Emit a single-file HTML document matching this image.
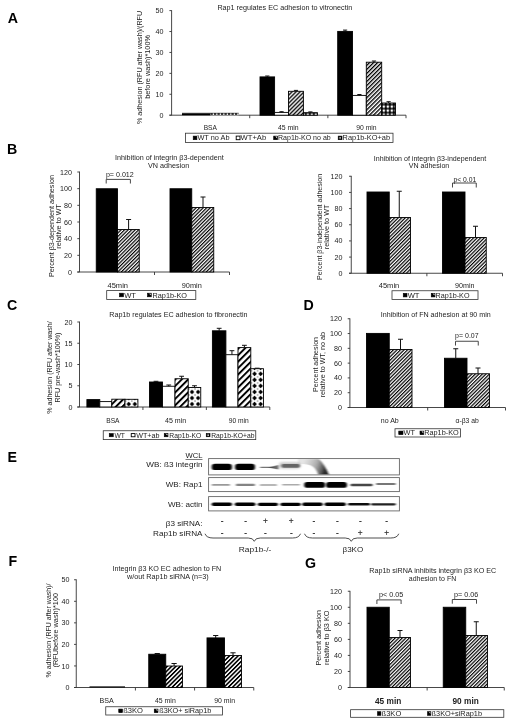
<!DOCTYPE html>
<html><head><meta charset="utf-8"><title>Figure</title>
<style>
html,body{margin:0;padding:0;background:#fff;}
svg{display:block;font-family:"Liberation Sans", Arial, sans-serif;}
.soft{filter:blur(0.45px);}
</style></head><body>
<svg width="520" height="724" viewBox="0 0 520 724">
<rect width="520" height="724" fill="#fff"/>
<defs>
<pattern id="ha" width="2.85" height="2.85" patternUnits="userSpaceOnUse" patternTransform="rotate(-45)"><rect width="2.85" height="2.85" fill="#fff"/><rect width="2.85" height="1.35" fill="#000"/></pattern>
<pattern id="hb" width="2.5" height="2.5" patternUnits="userSpaceOnUse" patternTransform="rotate(-45)"><rect width="2.5" height="2.5" fill="#fff"/><rect width="2.5" height="1.2" fill="#000"/></pattern>
<pattern id="hc" width="4.55" height="4.55" patternUnits="userSpaceOnUse" patternTransform="rotate(-45)"><rect width="4.55" height="4.55" fill="#fff"/><rect width="4.55" height="1.95" fill="#000"/></pattern>
<pattern id="hf" width="3.05" height="3.05" patternUnits="userSpaceOnUse" patternTransform="rotate(-45)"><rect width="3.05" height="3.05" fill="#fff"/><rect width="3.05" height="1.6" fill="#000"/></pattern>
<pattern id="lh" width="1.6" height="1.6" patternUnits="userSpaceOnUse" patternTransform="rotate(-45)"><rect width="1.6" height="1.6" fill="#fff"/><rect width="1.6" height="0.8" fill="#000"/></pattern>
<pattern id="dot" width="4" height="4" patternUnits="userSpaceOnUse" x="381.8" y="104.6"><rect width="4" height="4" fill="#000"/><rect x="0.85" y="0.85" width="2.3" height="2.3" rx="0.5" fill="#fff"/></pattern>
<pattern id="ld" width="2" height="2" patternUnits="userSpaceOnUse"><rect width="2" height="2" fill="#000"/><rect x="0.6" y="0.6" width="1" height="1" fill="#fff"/></pattern>
<pattern id="dia0" width="6.1" height="6.05" patternUnits="userSpaceOnUse" x="125.7" y="370.8"><rect width="6.1" height="6.05" fill="#fff"/><path d="M3.05 0.7 L5.4 3.02 L3.05 5.35 L0.7 3.02 Z" fill="#000"/><path d="M0 -0.7 L0.7 0 L0 0.7 L-0.7 0 Z M6.1 -0.7 L6.8 0 L6.1 0.7 L5.4 0 Z M0 5.35 L0.7 6.05 L0 6.75 L-0.7 6.05 Z M6.1 5.35 L6.8 6.05 L6.1 6.75 L5.4 6.05 Z" fill="#222"/></pattern>
<pattern id="dia1" width="6.1" height="6.05" patternUnits="userSpaceOnUse" x="188.95" y="370.8"><rect width="6.1" height="6.05" fill="#fff"/><path d="M3.05 0.7 L5.4 3.02 L3.05 5.35 L0.7 3.02 Z" fill="#000"/><path d="M0 -0.7 L0.7 0 L0 0.7 L-0.7 0 Z M6.1 -0.7 L6.8 0 L6.1 0.7 L5.4 0 Z M0 5.35 L0.7 6.05 L0 6.75 L-0.7 6.05 Z M6.1 5.35 L6.8 6.05 L6.1 6.75 L5.4 6.05 Z" fill="#222"/></pattern>
<pattern id="dia2" width="6.1" height="6.05" patternUnits="userSpaceOnUse" x="251.5" y="370.8"><rect width="6.1" height="6.05" fill="#fff"/><path d="M3.05 0.7 L5.4 3.02 L3.05 5.35 L0.7 3.02 Z" fill="#000"/><path d="M0 -0.7 L0.7 0 L0 0.7 L-0.7 0 Z M6.1 -0.7 L6.8 0 L6.1 0.7 L5.4 0 Z M0 5.35 L0.7 6.05 L0 6.75 L-0.7 6.05 Z M6.1 5.35 L6.8 6.05 L6.1 6.75 L5.4 6.05 Z" fill="#222"/></pattern>
<pattern id="ldi" width="2.2" height="2.2" patternUnits="userSpaceOnUse"><rect width="2.2" height="2.2" fill="#fff"/><path d="M1.1 0 L2.2 1.1 L1.1 2.2 L0 1.1 Z" fill="#000"/></pattern>
<filter id="bl" x="-20%" y="-50%" width="140%" height="200%"><feGaussianBlur stdDeviation="0.9 0.7"/></filter>
<filter id="bl2" x="-20%" y="-50%" width="140%" height="200%"><feGaussianBlur stdDeviation="1.6 1.2"/></filter>
<linearGradient id="bg" gradientUnits="userSpaceOnUse" x1="303" y1="462" x2="325.5" y2="470.5"><stop offset="0" stop-color="#999" stop-opacity="0.25"/><stop offset="0.55" stop-color="#777" stop-opacity="0.6"/><stop offset="1" stop-color="#1a1a1a" stop-opacity="0.95"/></linearGradient>
</defs>
<g class="soft">
<text x="7.8" y="23.0" font-size="14.2" text-anchor="start" font-weight="bold" fill="#000">A</text>
<text x="7.1" y="154.2" font-size="14.2" text-anchor="start" font-weight="bold" fill="#000">B</text>
<text x="6.9" y="309.9" font-size="14.2" text-anchor="start" font-weight="bold" fill="#000">C</text>
<text x="303.5" y="310" font-size="14.2" text-anchor="start" font-weight="bold" fill="#000">D</text>
<text x="7.4" y="462.0" font-size="14.2" text-anchor="start" font-weight="bold" fill="#000">E</text>
<text x="8.6" y="566.1" font-size="14.2" text-anchor="start" font-weight="bold" fill="#000">F</text>
<text x="304.9" y="567.9" font-size="14.2" text-anchor="start" font-weight="bold" fill="#000">G</text>
<text x="217.4" y="9.5" font-size="7.15" text-anchor="start" font-weight="normal" fill="#1c1c1c" textLength="134.9" lengthAdjust="spacingAndGlyphs">Rap1 regulates EC adhesion to vitronectin</text>
<line x1="171.6" y1="10.2" x2="171.6" y2="115.2" stroke="#333" stroke-width="0.9"/>
<line x1="169.4" y1="115.2" x2="171.6" y2="115.2" stroke="#333" stroke-width="0.9"/>
<text x="163.4" y="117.774" font-size="7.15" text-anchor="end" font-weight="normal" fill="#1c1c1c">0</text>
<line x1="169.4" y1="94.28" x2="171.6" y2="94.28" stroke="#333" stroke-width="0.9"/>
<text x="163.4" y="96.854" font-size="7.15" text-anchor="end" font-weight="normal" fill="#1c1c1c">10</text>
<line x1="169.4" y1="73.36" x2="171.6" y2="73.36" stroke="#333" stroke-width="0.9"/>
<text x="163.4" y="75.934" font-size="7.15" text-anchor="end" font-weight="normal" fill="#1c1c1c">20</text>
<line x1="169.4" y1="52.44" x2="171.6" y2="52.44" stroke="#333" stroke-width="0.9"/>
<text x="163.4" y="55.013999999999996" font-size="7.15" text-anchor="end" font-weight="normal" fill="#1c1c1c">30</text>
<line x1="169.4" y1="31.519999999999996" x2="171.6" y2="31.519999999999996" stroke="#333" stroke-width="0.9"/>
<text x="163.4" y="34.093999999999994" font-size="7.15" text-anchor="end" font-weight="normal" fill="#1c1c1c">40</text>
<line x1="169.4" y1="10.600000000000009" x2="171.6" y2="10.600000000000009" stroke="#333" stroke-width="0.9"/>
<text x="163.4" y="13.174000000000008" font-size="7.15" text-anchor="end" font-weight="normal" fill="#1c1c1c">50</text>
<line x1="169.4" y1="115.2" x2="406" y2="115.2" stroke="#333" stroke-width="0.9"/>
<line x1="249.73333333333335" y1="115.2" x2="249.73333333333335" y2="118.2" stroke="#333" stroke-width="0.9"/>
<line x1="327.8666666666667" y1="115.2" x2="327.8666666666667" y2="118.2" stroke="#333" stroke-width="0.9"/>
<line x1="406.0" y1="115.2" x2="406.0" y2="118.2" stroke="#333" stroke-width="0.9"/>
<rect x="182" y="113.3" width="28.4" height="1.9" fill="#000" stroke="none" stroke-width="0"/>
<rect x="210.4" y="113.3" width="28.3" height="1.9" fill="#fff" stroke="none" stroke-width="0"/>
<line x1="210.4" y1="114" x2="238.7" y2="114" stroke="#000" stroke-width="1.4" stroke-dasharray="2.4 1.1"/>
<line x1="182" y1="113.2" x2="238.7" y2="113.2" stroke="#000" stroke-width="0.5"/>
<text x="203.7" y="130" font-size="7.15" text-anchor="start" font-weight="normal" fill="#1c1c1c" textLength="13.2" lengthAdjust="spacingAndGlyphs">BSA</text>
<text x="278" y="130" font-size="7.15" text-anchor="start" font-weight="normal" fill="#1c1c1c" textLength="20.7" lengthAdjust="spacingAndGlyphs">45 min</text>
<text x="356.2" y="130" font-size="7.15" text-anchor="start" font-weight="normal" fill="#1c1c1c" textLength="20.4" lengthAdjust="spacingAndGlyphs">90 min</text>
<rect x="185.5" y="133.2" width="207.5" height="9.4" fill="#fff" stroke="#333" stroke-width="0.8"/>
<rect x="193.2" y="136.1" width="3.7" height="3.6" fill="#000" stroke="#000" stroke-width="0.6"/>
<text x="197.4" y="140.474" font-size="7.15" text-anchor="start" font-weight="normal" fill="#1c1c1c" textLength="32.1" lengthAdjust="spacingAndGlyphs">WT no Ab</text>
<rect x="236.2" y="136.1" width="3.8" height="3.6" fill="#fff" stroke="#000" stroke-width="0.9"/>
<text x="240.6" y="140.474" font-size="7.15" text-anchor="start" font-weight="normal" fill="#1c1c1c" textLength="25.6" lengthAdjust="spacingAndGlyphs">WT+Ab</text>
<rect x="273.7" y="136.1" width="3.8" height="3.6" fill="#000" stroke="#000" stroke-width="0.6"/>
<path d="M275.296 136.59999999999997 L277.0 136.59999999999997 L277.0 138.188 Z" fill="#fff"/>
<text x="278" y="140.474" font-size="7.15" text-anchor="start" font-weight="normal" fill="#1c1c1c" textLength="52.7" lengthAdjust="spacingAndGlyphs">Rap1b-KO no ab</text>
<rect x="338.2" y="136.1" width="3.8" height="3.6" fill="#000" stroke="#000" stroke-width="0.6"/>
<rect x="339.4" y="137.2" width="1.4" height="1.4" fill="#fff"/>
<text x="342.6" y="140.474" font-size="7.15" text-anchor="start" font-weight="normal" fill="#1c1c1c" textLength="47.4" lengthAdjust="spacingAndGlyphs">Rap1b-KO+ab</text>
<text x="142.23100000000002" y="124" font-size="7.15" text-anchor="start" fill="#1c1c1c" transform="rotate(-90 142.23100000000002 124)" textLength="113.2" lengthAdjust="spacingAndGlyphs">% adhesion (RFU after wash)/(RFU</text>
<text x="150.031" y="98.8" font-size="7.15" text-anchor="start" fill="#1c1c1c" transform="rotate(-90 150.031 98.8)" textLength="63.8" lengthAdjust="spacingAndGlyphs">before wash)*100%</text>
<text x="115" y="160" font-size="7.15" text-anchor="start" font-weight="normal" fill="#1c1c1c" textLength="108.75" lengthAdjust="spacingAndGlyphs">Inhibition of integrin β3-dependent</text>
<text x="148" y="168.1" font-size="7.15" text-anchor="start" font-weight="normal" fill="#1c1c1c" textLength="41.25" lengthAdjust="spacingAndGlyphs">VN adhesion</text>
<line x1="79.5" y1="171.6" x2="79.5" y2="272" stroke="#333" stroke-width="0.9"/>
<line x1="77.3" y1="272.0" x2="79.5" y2="272.0" stroke="#333" stroke-width="0.9"/>
<text x="72" y="274.574" font-size="7.15" text-anchor="end" font-weight="normal" fill="#1c1c1c">0</text>
<line x1="77.3" y1="255.33333333333334" x2="79.5" y2="255.33333333333334" stroke="#333" stroke-width="0.9"/>
<text x="72" y="257.9073333333333" font-size="7.15" text-anchor="end" font-weight="normal" fill="#1c1c1c">20</text>
<line x1="77.3" y1="238.66666666666666" x2="79.5" y2="238.66666666666666" stroke="#333" stroke-width="0.9"/>
<text x="72" y="241.24066666666667" font-size="7.15" text-anchor="end" font-weight="normal" fill="#1c1c1c">40</text>
<line x1="77.3" y1="222.0" x2="79.5" y2="222.0" stroke="#333" stroke-width="0.9"/>
<text x="72" y="224.574" font-size="7.15" text-anchor="end" font-weight="normal" fill="#1c1c1c">60</text>
<line x1="77.3" y1="205.33333333333331" x2="79.5" y2="205.33333333333331" stroke="#333" stroke-width="0.9"/>
<text x="72" y="207.90733333333333" font-size="7.15" text-anchor="end" font-weight="normal" fill="#1c1c1c">80</text>
<line x1="77.3" y1="188.66666666666669" x2="79.5" y2="188.66666666666669" stroke="#333" stroke-width="0.9"/>
<text x="72" y="191.2406666666667" font-size="7.15" text-anchor="end" font-weight="normal" fill="#1c1c1c">100</text>
<line x1="77.3" y1="172.0" x2="79.5" y2="172.0" stroke="#333" stroke-width="0.9"/>
<text x="72" y="174.574" font-size="7.15" text-anchor="end" font-weight="normal" fill="#1c1c1c">120</text>
<line x1="77.3" y1="272" x2="229.5" y2="272" stroke="#333" stroke-width="0.9"/>
<line x1="154.5" y1="272" x2="154.5" y2="275.0" stroke="#333" stroke-width="0.9"/>
<line x1="229.5" y1="272" x2="229.5" y2="275.0" stroke="#333" stroke-width="0.9"/>
<polyline points="106.2,183.5 106.2,179.4 130.4,179.4 130.4,183.5" fill="none" stroke="#333" stroke-width="0.9"/>
<text x="105.9" y="176.5" font-size="7.15" text-anchor="start" font-weight="normal" fill="#1c1c1c" textLength="27.9" lengthAdjust="spacingAndGlyphs">p= 0.012</text>
<text x="107.5" y="287.5" font-size="7.15" text-anchor="start" font-weight="normal" fill="#1c1c1c" textLength="20.5" lengthAdjust="spacingAndGlyphs">45min</text>
<text x="181.75" y="287.5" font-size="7.15" text-anchor="start" font-weight="normal" fill="#1c1c1c" textLength="20.0" lengthAdjust="spacingAndGlyphs">90min</text>
<rect x="106.7" y="290.6" width="89.1" height="8.8" fill="#fff" stroke="#333" stroke-width="0.8"/>
<rect x="119.5" y="293.2" width="4.0" height="3.6" fill="#000" stroke="#000" stroke-width="0.6"/>
<text x="124.2" y="297.574" font-size="7.15" text-anchor="start" font-weight="normal" fill="#1c1c1c" textLength="11.8" lengthAdjust="spacingAndGlyphs">WT</text>
<rect x="147.5" y="293.2" width="3.75" height="3.6" fill="#000" stroke="#000" stroke-width="0.6"/>
<path d="M149.075 293.7 L150.75 293.7 L150.75 295.288 Z" fill="#fff"/>
<text x="152.5" y="297.574" font-size="7.15" text-anchor="start" font-weight="normal" fill="#1c1c1c" textLength="34.5" lengthAdjust="spacingAndGlyphs">Rap1b-KO</text>
<text x="53.681" y="277" font-size="7.15" text-anchor="start" fill="#1c1c1c" transform="rotate(-90 53.681 277)" textLength="102" lengthAdjust="spacingAndGlyphs">Percent β3-dependent adhesion</text>
<text x="61.431" y="248.7" font-size="7.15" text-anchor="start" fill="#1c1c1c" transform="rotate(-90 61.431 248.7)" textLength="44.7" lengthAdjust="spacingAndGlyphs">relative to WT</text>
<text x="373.75" y="160.75" font-size="7.15" text-anchor="start" font-weight="normal" fill="#1c1c1c" textLength="112.5" lengthAdjust="spacingAndGlyphs">Inhibition of integrin β3-independent</text>
<text x="408.75" y="168.25" font-size="7.15" text-anchor="start" font-weight="normal" fill="#1c1c1c" textLength="40.5" lengthAdjust="spacingAndGlyphs">VN adhesion</text>
<line x1="351.25" y1="175.85" x2="351.25" y2="273.25" stroke="#333" stroke-width="0.9"/>
<line x1="349.05" y1="273.25" x2="351.25" y2="273.25" stroke="#333" stroke-width="0.9"/>
<text x="342.5" y="275.824" font-size="7.15" text-anchor="end" font-weight="normal" fill="#1c1c1c">0</text>
<line x1="349.05" y1="257.0833333333333" x2="351.25" y2="257.0833333333333" stroke="#333" stroke-width="0.9"/>
<text x="342.5" y="259.6573333333333" font-size="7.15" text-anchor="end" font-weight="normal" fill="#1c1c1c">20</text>
<line x1="349.05" y1="240.91666666666666" x2="351.25" y2="240.91666666666666" stroke="#333" stroke-width="0.9"/>
<text x="342.5" y="243.49066666666667" font-size="7.15" text-anchor="end" font-weight="normal" fill="#1c1c1c">40</text>
<line x1="349.05" y1="224.75" x2="351.25" y2="224.75" stroke="#333" stroke-width="0.9"/>
<text x="342.5" y="227.324" font-size="7.15" text-anchor="end" font-weight="normal" fill="#1c1c1c">60</text>
<line x1="349.05" y1="208.58333333333331" x2="351.25" y2="208.58333333333331" stroke="#333" stroke-width="0.9"/>
<text x="342.5" y="211.15733333333333" font-size="7.15" text-anchor="end" font-weight="normal" fill="#1c1c1c">80</text>
<line x1="349.05" y1="192.41666666666669" x2="351.25" y2="192.41666666666669" stroke="#333" stroke-width="0.9"/>
<text x="342.5" y="194.9906666666667" font-size="7.15" text-anchor="end" font-weight="normal" fill="#1c1c1c">100</text>
<line x1="349.05" y1="176.25" x2="351.25" y2="176.25" stroke="#333" stroke-width="0.9"/>
<text x="342.5" y="178.824" font-size="7.15" text-anchor="end" font-weight="normal" fill="#1c1c1c">120</text>
<line x1="349.05" y1="273.25" x2="502.5" y2="273.25" stroke="#333" stroke-width="0.9"/>
<line x1="426.875" y1="273.25" x2="426.875" y2="276.25" stroke="#333" stroke-width="0.9"/>
<line x1="502.5" y1="273.25" x2="502.5" y2="276.25" stroke="#333" stroke-width="0.9"/>
<polyline points="452.5,187.5 452.5,183 476.25,183 476.25,187.5" fill="none" stroke="#333" stroke-width="0.9"/>
<text x="453.5" y="181.7" font-size="7.15" text-anchor="start" font-weight="normal" fill="#1c1c1c" textLength="22.8" lengthAdjust="spacingAndGlyphs">p&lt; 0.01</text>
<text x="378.75" y="287.5" font-size="7.15" text-anchor="start" font-weight="normal" fill="#1c1c1c" textLength="20.5" lengthAdjust="spacingAndGlyphs">45min</text>
<text x="455" y="287.5" font-size="7.15" text-anchor="start" font-weight="normal" fill="#1c1c1c" textLength="19.5" lengthAdjust="spacingAndGlyphs">90min</text>
<rect x="392" y="290.75" width="86" height="8.75" fill="#fff" stroke="#333" stroke-width="0.8"/>
<rect x="403.25" y="293.32" width="3.75" height="3.6" fill="#000" stroke="#000" stroke-width="0.6"/>
<text x="407.7" y="297.699" font-size="7.15" text-anchor="start" font-weight="normal" fill="#1c1c1c" textLength="11.8" lengthAdjust="spacingAndGlyphs">WT</text>
<rect x="431.25" y="293.32" width="3.75" height="3.6" fill="#000" stroke="#000" stroke-width="0.6"/>
<path d="M432.825 293.825 L434.5 293.825 L434.5 295.413 Z" fill="#fff"/>
<text x="435.6" y="297.699" font-size="7.15" text-anchor="start" font-weight="normal" fill="#1c1c1c" textLength="33.9" lengthAdjust="spacingAndGlyphs">Rap1b-KO</text>
<text x="321.681" y="280" font-size="7.15" text-anchor="start" fill="#1c1c1c" transform="rotate(-90 321.681 280)" textLength="106.25" lengthAdjust="spacingAndGlyphs">Percent β3-independent adhesion</text>
<text x="329.431" y="249.2" font-size="7.15" text-anchor="start" fill="#1c1c1c" transform="rotate(-90 329.431 249.2)" textLength="44.6" lengthAdjust="spacingAndGlyphs">relative to WT</text>
<text x="109.25" y="317" font-size="6.9" text-anchor="start" font-weight="normal" fill="#1c1c1c" textLength="138.25" lengthAdjust="spacingAndGlyphs">Rap1b regulates EC adhesion to fibronectin</text>
<line x1="79.5" y1="321.6" x2="79.5" y2="407" stroke="#333" stroke-width="0.9"/>
<line x1="77.3" y1="407.0" x2="79.5" y2="407.0" stroke="#333" stroke-width="0.9"/>
<text x="72.5" y="409.574" font-size="7.15" text-anchor="end" font-weight="normal" fill="#1c1c1c">0</text>
<line x1="77.3" y1="385.75" x2="79.5" y2="385.75" stroke="#333" stroke-width="0.9"/>
<text x="72.5" y="388.324" font-size="7.15" text-anchor="end" font-weight="normal" fill="#1c1c1c">5</text>
<line x1="77.3" y1="364.5" x2="79.5" y2="364.5" stroke="#333" stroke-width="0.9"/>
<text x="72.5" y="367.074" font-size="7.15" text-anchor="end" font-weight="normal" fill="#1c1c1c">10</text>
<line x1="77.3" y1="343.25" x2="79.5" y2="343.25" stroke="#333" stroke-width="0.9"/>
<text x="72.5" y="345.824" font-size="7.15" text-anchor="end" font-weight="normal" fill="#1c1c1c">15</text>
<line x1="77.3" y1="322.0" x2="79.5" y2="322.0" stroke="#333" stroke-width="0.9"/>
<text x="72.5" y="324.574" font-size="7.15" text-anchor="end" font-weight="normal" fill="#1c1c1c">20</text>
<line x1="77.3" y1="407" x2="269.8" y2="407" stroke="#333" stroke-width="0.9"/>
<line x1="142.93333333333334" y1="407" x2="142.93333333333334" y2="410.0" stroke="#333" stroke-width="0.9"/>
<line x1="206.36666666666667" y1="407" x2="206.36666666666667" y2="410.0" stroke="#333" stroke-width="0.9"/>
<line x1="269.80000000000007" y1="407" x2="269.80000000000007" y2="410.0" stroke="#333" stroke-width="0.9"/>
<text x="106.25" y="422.5" font-size="6.9" text-anchor="start" font-weight="normal" fill="#1c1c1c" textLength="13.25" lengthAdjust="spacingAndGlyphs">BSA</text>
<text x="165" y="422.5" font-size="6.9" text-anchor="start" font-weight="normal" fill="#1c1c1c" textLength="21.25" lengthAdjust="spacingAndGlyphs">45 min</text>
<text x="228.75" y="422.5" font-size="6.9" text-anchor="start" font-weight="normal" fill="#1c1c1c" textLength="20.0" lengthAdjust="spacingAndGlyphs">90 min</text>
<rect x="103.25" y="430.75" width="152.5" height="8.85" fill="#fff" stroke="#333" stroke-width="0.8"/>
<rect x="109.25" y="433.57" width="4.0" height="3.2" fill="#000" stroke="#000" stroke-width="0.6"/>
<text x="114.5" y="437.659" font-size="6.9" text-anchor="start" font-weight="normal" fill="#1c1c1c" textLength="10.5" lengthAdjust="spacingAndGlyphs">WT</text>
<rect x="131.25" y="433.57" width="3.75" height="3.2" fill="#fff" stroke="#000" stroke-width="0.9"/>
<text x="136.25" y="437.659" font-size="6.9" text-anchor="start" font-weight="normal" fill="#1c1c1c" textLength="23.25" lengthAdjust="spacingAndGlyphs">WT+ab</text>
<rect x="164.25" y="433.57" width="3.75" height="3.2" fill="#000" stroke="#000" stroke-width="0.6"/>
<path d="M165.825 434.075 L167.5 434.075 L167.5 435.431 Z" fill="#fff"/>
<text x="169.25" y="437.659" font-size="6.9" text-anchor="start" font-weight="normal" fill="#1c1c1c" textLength="32.0" lengthAdjust="spacingAndGlyphs">Rap1b-KO</text>
<rect x="206.25" y="433.57" width="3.75" height="3.2" fill="#000" stroke="#000" stroke-width="0.6"/>
<rect x="207.43" y="434.48" width="1.4" height="1.4" fill="#fff"/>
<text x="211.25" y="437.659" font-size="6.9" text-anchor="start" font-weight="normal" fill="#1c1c1c" textLength="43.25" lengthAdjust="spacingAndGlyphs">Rap1b-KO+ab</text>
<text x="52.346000000000004" y="413.75" font-size="6.9" text-anchor="start" fill="#1c1c1c" transform="rotate(-90 52.346000000000004 413.75)" textLength="92.5" lengthAdjust="spacingAndGlyphs">% adhesion (RFU after wash/</text>
<text x="59.846000000000004" y="402.5" font-size="6.9" text-anchor="start" fill="#1c1c1c" transform="rotate(-90 59.846000000000004 402.5)" textLength="70.0" lengthAdjust="spacingAndGlyphs">RFU pre-wash*100%)</text>
<text x="380.75" y="316.5" font-size="7.15" text-anchor="start" font-weight="normal" fill="#1c1c1c" textLength="110.0" lengthAdjust="spacingAndGlyphs">Inhibition of FN adhesion at 90 min</text>
<line x1="349.9" y1="318.35" x2="349.9" y2="407.5" stroke="#333" stroke-width="0.9"/>
<line x1="347.7" y1="407.5" x2="349.9" y2="407.5" stroke="#333" stroke-width="0.9"/>
<text x="342" y="410.074" font-size="7.15" text-anchor="end" font-weight="normal" fill="#1c1c1c">0</text>
<line x1="347.7" y1="392.7083333333333" x2="349.9" y2="392.7083333333333" stroke="#333" stroke-width="0.9"/>
<text x="342" y="395.2823333333333" font-size="7.15" text-anchor="end" font-weight="normal" fill="#1c1c1c">20</text>
<line x1="347.7" y1="377.9166666666667" x2="349.9" y2="377.9166666666667" stroke="#333" stroke-width="0.9"/>
<text x="342" y="380.4906666666667" font-size="7.15" text-anchor="end" font-weight="normal" fill="#1c1c1c">40</text>
<line x1="347.7" y1="363.125" x2="349.9" y2="363.125" stroke="#333" stroke-width="0.9"/>
<text x="342" y="365.699" font-size="7.15" text-anchor="end" font-weight="normal" fill="#1c1c1c">60</text>
<line x1="347.7" y1="348.3333333333333" x2="349.9" y2="348.3333333333333" stroke="#333" stroke-width="0.9"/>
<text x="342" y="350.9073333333333" font-size="7.15" text-anchor="end" font-weight="normal" fill="#1c1c1c">80</text>
<line x1="347.7" y1="333.5416666666667" x2="349.9" y2="333.5416666666667" stroke="#333" stroke-width="0.9"/>
<text x="342" y="336.1156666666667" font-size="7.15" text-anchor="end" font-weight="normal" fill="#1c1c1c">100</text>
<line x1="347.7" y1="318.75" x2="349.9" y2="318.75" stroke="#333" stroke-width="0.9"/>
<text x="342" y="321.324" font-size="7.15" text-anchor="end" font-weight="normal" fill="#1c1c1c">120</text>
<line x1="347.7" y1="407.5" x2="505.5" y2="407.5" stroke="#333" stroke-width="0.9"/>
<line x1="427.7" y1="407.5" x2="427.7" y2="410.5" stroke="#333" stroke-width="0.9"/>
<line x1="505.5" y1="407.5" x2="505.5" y2="410.5" stroke="#333" stroke-width="0.9"/>
<polyline points="455.5,345.55 455.5,341.25 478.25,341.25 478.25,345.55" fill="none" stroke="#333" stroke-width="0.9"/>
<text x="455.1" y="337.8" font-size="7.15" text-anchor="start" font-weight="normal" fill="#1c1c1c" textLength="23.5" lengthAdjust="spacingAndGlyphs">p= 0.07</text>
<text x="380.75" y="423" font-size="7.15" text-anchor="start" font-weight="normal" fill="#1c1c1c" textLength="18.0" lengthAdjust="spacingAndGlyphs">no Ab</text>
<text x="455.5" y="423" font-size="7.15" text-anchor="start" font-weight="normal" fill="#1c1c1c" textLength="23.25" lengthAdjust="spacingAndGlyphs">α-β3 ab</text>
<rect x="395" y="428.75" width="65.5" height="8.25" fill="#fff" stroke="#333" stroke-width="0.8"/>
<rect x="398.75" y="431.07" width="4.25" height="3.6" fill="#000" stroke="#000" stroke-width="0.6"/>
<text x="403.6" y="435.449" font-size="7.15" text-anchor="start" font-weight="normal" fill="#1c1c1c" textLength="11.4" lengthAdjust="spacingAndGlyphs">WT</text>
<rect x="420" y="431.07" width="3.75" height="3.6" fill="#000" stroke="#000" stroke-width="0.6"/>
<path d="M421.575 431.575 L423.25 431.575 L423.25 433.163 Z" fill="#fff"/>
<text x="424.2" y="435.449" font-size="7.15" text-anchor="start" font-weight="normal" fill="#1c1c1c" textLength="34.55" lengthAdjust="spacingAndGlyphs">Rap1b-KO</text>
<text x="317.931" y="392" font-size="7.15" text-anchor="start" fill="#1c1c1c" transform="rotate(-90 317.931 392)" textLength="55" lengthAdjust="spacingAndGlyphs">Percent adhesion</text>
<text x="325.431" y="397.5" font-size="7.15" text-anchor="start" fill="#1c1c1c" transform="rotate(-90 325.431 397.5)" textLength="65.5" lengthAdjust="spacingAndGlyphs">relative to WT, no ab</text>
<text x="185.5" y="458" font-size="7.65" text-anchor="start" font-weight="normal" fill="#1c1c1c" textLength="17.0" lengthAdjust="spacingAndGlyphs">WCL</text>
<line x1="185.5" y1="459.5" x2="202.5" y2="459.5" stroke="#222" stroke-width="0.6"/>
<text x="146.25" y="467" font-size="8.1" text-anchor="start" font-weight="normal" fill="#1c1c1c" textLength="56.25" lengthAdjust="spacingAndGlyphs">WB: ß3 integrin</text>
<text x="165.75" y="487" font-size="8.1" text-anchor="start" font-weight="normal" fill="#1c1c1c" textLength="36.75" lengthAdjust="spacingAndGlyphs">WB: Rap1</text>
<text x="168" y="506.6" font-size="8.1" text-anchor="start" font-weight="normal" fill="#1c1c1c" textLength="34.5" lengthAdjust="spacingAndGlyphs">WB: actin</text>
<rect x="208.6" y="458.6" width="190.8" height="16.3" fill="#fff" stroke="none" stroke-width="0"/>
<rect x="208.6" y="477.6" width="190.8" height="14.0" fill="#fff" stroke="none" stroke-width="0"/>
<rect x="208.6" y="496.6" width="190.8" height="14.3" fill="#fff" stroke="none" stroke-width="0"/>
<g>
<rect x="211.7" y="463.7" width="20.3" height="6.4" rx="3.2" fill="#000" opacity="1.0" filter="url(#bl)"/>
<rect x="235" y="463.7" width="20" height="6.4" rx="3.2" fill="#000" opacity="1.0" filter="url(#bl)"/>
<rect x="260" y="466.75" width="14" height="1.3" rx="0.65" fill="#555" opacity="0.8" filter="url(#bl)"/>
<path d="M268 467.4 L278.5 464.9 L278.5 469.6 Z" fill="#444" opacity="0.8" filter="url(#bl)"/>
<rect x="279" y="462.2" width="21.5" height="6.2" rx="3.1" fill="#999" opacity="0.55" filter="url(#bl2)"/>
<rect x="281.5" y="463.9" width="18.5" height="3.8" rx="1.9" fill="#444" opacity="0.75" filter="url(#bl)"/>
<clipPath id="c1"><rect x="209.2" y="459.2" width="189.9" height="15.4"/></clipPath>
<g clip-path="url(#c1)"><path d="M298 458.5 L318.5 458.5 Q324.5 464 329.3 475.6 L318.5 475.6 Q317 468.5 310.5 465.3 Q305 463.6 298 464 Z" fill="url(#bg)" filter="url(#bl)"/></g>
<rect x="211.7" y="484.05" width="18.3" height="1.7" rx="0.85" fill="#777" opacity="0.75" filter="url(#bl)"/>
<rect x="235.8" y="483.8" width="19.2" height="2.2" rx="1.1" fill="#666" opacity="0.8" filter="url(#bl)"/>
<rect x="259.8" y="484.15" width="17.2" height="1.7" rx="0.85" fill="#777" opacity="0.7" filter="url(#bl)"/>
<rect x="282" y="484.0" width="18" height="1.6" rx="0.8" fill="#888" opacity="0.7" filter="url(#bl)"/>
<rect x="304.2" y="482.1" width="21.0" height="5.6" rx="2.8" fill="#000" opacity="1.0" filter="url(#bl)"/>
<rect x="326" y="481.95" width="21" height="5.9" rx="2.95" fill="#000" opacity="1.0" filter="url(#bl)"/>
<rect x="350.4" y="483.8" width="22.3" height="2.4" rx="1.2" fill="#333" opacity="0.9" filter="url(#bl)"/>
<rect x="376" y="483.1" width="19.8" height="2.0" rx="1.0" fill="#555" opacity="0.8" filter="url(#bl)"/>
<rect x="211.7" y="502.6" width="20.3" height="3.4" rx="1.7" fill="#000" opacity="1.0" filter="url(#bl)"/>
<rect x="234.8" y="502.6" width="20.6" height="3.4" rx="1.7" fill="#000" opacity="1.0" filter="url(#bl)"/>
<rect x="257.9" y="502.7" width="20.1" height="3.2" rx="1.6" fill="#000" opacity="1.0" filter="url(#bl)"/>
<rect x="280.4" y="502.7" width="20.4" height="3.2" rx="1.6" fill="#000" opacity="1.0" filter="url(#bl)"/>
<rect x="302.3" y="502.6" width="20.4" height="3.4" rx="1.7" fill="#000" opacity="1.0" filter="url(#bl)"/>
<rect x="324.6" y="502.6" width="21.2" height="3.4" rx="1.7" fill="#000" opacity="1.0" filter="url(#bl)"/>
<rect x="348" y="503.0" width="22" height="2.6" rx="1.3" fill="#111" opacity="1.0" filter="url(#bl)"/>
<rect x="371" y="503.2" width="24.8" height="2.2" rx="1.1" fill="#222" opacity="1.0" filter="url(#bl)"/>
</g>
<rect x="208.6" y="458.6" width="190.8" height="16.3" fill="none" stroke="#666" stroke-width="0.9"/>
<rect x="208.6" y="477.6" width="190.8" height="14.0" fill="none" stroke="#666" stroke-width="0.9"/>
<rect x="208.6" y="496.6" width="190.8" height="14.3" fill="none" stroke="#666" stroke-width="0.9"/>
<text x="165.75" y="526.1" font-size="8.1" text-anchor="start" font-weight="normal" fill="#1c1c1c" textLength="36.75" lengthAdjust="spacingAndGlyphs">β3 siRNA:</text>
<text x="153" y="536.0" font-size="8.1" text-anchor="start" font-weight="normal" fill="#1c1c1c" textLength="49.5" lengthAdjust="spacingAndGlyphs">Rap1b siRNA</text>
<text x="222.1" y="524.4" font-size="8.3" text-anchor="middle" font-weight="normal" fill="#1c1c1c" stroke="#1a1a1a" stroke-width="0.12">-</text>
<text x="222.1" y="535.6" font-size="8.3" text-anchor="middle" font-weight="normal" fill="#1c1c1c" stroke="#1a1a1a" stroke-width="0.12">-</text>
<text x="245.6" y="524.4" font-size="8.3" text-anchor="middle" font-weight="normal" fill="#1c1c1c" stroke="#1a1a1a" stroke-width="0.12">-</text>
<text x="245.6" y="535.6" font-size="8.3" text-anchor="middle" font-weight="normal" fill="#1c1c1c" stroke="#1a1a1a" stroke-width="0.12">-</text>
<text x="265.4" y="524.4" font-size="8.3" text-anchor="middle" font-weight="normal" fill="#1c1c1c" stroke="#1a1a1a" stroke-width="0.12">+</text>
<text x="265.4" y="535.6" font-size="8.3" text-anchor="middle" font-weight="normal" fill="#1c1c1c" stroke="#1a1a1a" stroke-width="0.12">-</text>
<text x="291.3" y="524.4" font-size="8.3" text-anchor="middle" font-weight="normal" fill="#1c1c1c" stroke="#1a1a1a" stroke-width="0.12">+</text>
<text x="291.3" y="535.6" font-size="8.3" text-anchor="middle" font-weight="normal" fill="#1c1c1c" stroke="#1a1a1a" stroke-width="0.12">-</text>
<text x="313.8" y="524.4" font-size="8.3" text-anchor="middle" font-weight="normal" fill="#1c1c1c" stroke="#1a1a1a" stroke-width="0.12">-</text>
<text x="313.8" y="535.6" font-size="8.3" text-anchor="middle" font-weight="normal" fill="#1c1c1c" stroke="#1a1a1a" stroke-width="0.12">-</text>
<text x="337.4" y="524.4" font-size="8.3" text-anchor="middle" font-weight="normal" fill="#1c1c1c" stroke="#1a1a1a" stroke-width="0.12">-</text>
<text x="337.4" y="535.6" font-size="8.3" text-anchor="middle" font-weight="normal" fill="#1c1c1c" stroke="#1a1a1a" stroke-width="0.12">-</text>
<text x="360.3" y="524.4" font-size="8.3" text-anchor="middle" font-weight="normal" fill="#1c1c1c" stroke="#1a1a1a" stroke-width="0.12">-</text>
<text x="360.3" y="535.6" font-size="8.3" text-anchor="middle" font-weight="normal" fill="#1c1c1c" stroke="#1a1a1a" stroke-width="0.12">+</text>
<text x="386.7" y="524.4" font-size="8.3" text-anchor="middle" font-weight="normal" fill="#1c1c1c" stroke="#1a1a1a" stroke-width="0.12">-</text>
<text x="386.7" y="535.6" font-size="8.3" text-anchor="middle" font-weight="normal" fill="#1c1c1c" stroke="#1a1a1a" stroke-width="0.12">+</text>
<path d="M205 533.75 Q206.5 538 213 538 L248.25 538 Q253.25 538 254.25 541.3 Q255.25 538 260.25 538 L292.5 538 Q299.0 538 300.5 533.75" fill="none" stroke="#222" stroke-width="0.8"/>
<path d="M304.5 533.75 Q306.0 538 312.5 538 L345.25 538 Q350.25 538 351.25 541.3 Q352.25 538 357.25 538 L390.75 538 Q397.25 538 398.75 533.75" fill="none" stroke="#222" stroke-width="0.8"/>
<text x="238.75" y="551.5" font-size="8.1" text-anchor="start" font-weight="normal" fill="#1c1c1c" textLength="32.5" lengthAdjust="spacingAndGlyphs">Rap1b-/-</text>
<text x="342.5" y="551.75" font-size="8.1" text-anchor="start" font-weight="normal" fill="#1c1c1c" textLength="20.75" lengthAdjust="spacingAndGlyphs">β3KO</text>
<text x="112.5" y="571.25" font-size="7.15" text-anchor="start" font-weight="normal" fill="#1c1c1c" textLength="108.75" lengthAdjust="spacingAndGlyphs">Integrin β3 KO EC adhesion to FN</text>
<text x="127" y="579.4" font-size="7.15" text-anchor="start" font-weight="normal" fill="#1c1c1c" textLength="81.75" lengthAdjust="spacingAndGlyphs">w/out Rap1b siRNA (n=3)</text>
<line x1="76.25" y1="579.35" x2="76.25" y2="687.5" stroke="#333" stroke-width="0.9"/>
<line x1="74.05" y1="687.5" x2="76.25" y2="687.5" stroke="#333" stroke-width="0.9"/>
<text x="69.5" y="690.074" font-size="7.15" text-anchor="end" font-weight="normal" fill="#1c1c1c">0</text>
<line x1="74.05" y1="665.95" x2="76.25" y2="665.95" stroke="#333" stroke-width="0.9"/>
<text x="69.5" y="668.524" font-size="7.15" text-anchor="end" font-weight="normal" fill="#1c1c1c">10</text>
<line x1="74.05" y1="644.4" x2="76.25" y2="644.4" stroke="#333" stroke-width="0.9"/>
<text x="69.5" y="646.9739999999999" font-size="7.15" text-anchor="end" font-weight="normal" fill="#1c1c1c">20</text>
<line x1="74.05" y1="622.85" x2="76.25" y2="622.85" stroke="#333" stroke-width="0.9"/>
<text x="69.5" y="625.424" font-size="7.15" text-anchor="end" font-weight="normal" fill="#1c1c1c">30</text>
<line x1="74.05" y1="601.3" x2="76.25" y2="601.3" stroke="#333" stroke-width="0.9"/>
<text x="69.5" y="603.8739999999999" font-size="7.15" text-anchor="end" font-weight="normal" fill="#1c1c1c">40</text>
<line x1="74.05" y1="579.75" x2="76.25" y2="579.75" stroke="#333" stroke-width="0.9"/>
<text x="69.5" y="582.324" font-size="7.15" text-anchor="end" font-weight="normal" fill="#1c1c1c">50</text>
<line x1="74.05" y1="687.5" x2="253.75" y2="687.5" stroke="#333" stroke-width="0.9"/>
<line x1="135.41666666666666" y1="687.5" x2="135.41666666666666" y2="690.5" stroke="#333" stroke-width="0.9"/>
<line x1="194.58333333333331" y1="687.5" x2="194.58333333333331" y2="690.5" stroke="#333" stroke-width="0.9"/>
<line x1="253.75" y1="687.5" x2="253.75" y2="690.5" stroke="#333" stroke-width="0.9"/>
<rect x="89.5" y="686.4" width="35.5" height="1.1" fill="#000" stroke="none" stroke-width="0"/>
<text x="99.5" y="703" font-size="7.15" text-anchor="start" font-weight="normal" fill="#1c1c1c" textLength="14.25" lengthAdjust="spacingAndGlyphs">BSA</text>
<text x="155" y="703" font-size="7.15" text-anchor="start" font-weight="normal" fill="#1c1c1c" textLength="20.75" lengthAdjust="spacingAndGlyphs">45 min</text>
<text x="214.25" y="703" font-size="7.15" text-anchor="start" font-weight="normal" fill="#1c1c1c" textLength="20.75" lengthAdjust="spacingAndGlyphs">90 min</text>
<rect x="105.75" y="706.75" width="116.75" height="8.25" fill="#fff" stroke="#333" stroke-width="0.8"/>
<rect x="118.75" y="709.08" width="3.75" height="3.6" fill="#000" stroke="#000" stroke-width="0.6"/>
<text x="123.2" y="713.449" font-size="7.15" text-anchor="start" font-weight="normal" fill="#1c1c1c" textLength="19.8" lengthAdjust="spacingAndGlyphs">ß3KO</text>
<rect x="154.25" y="709.08" width="3.75" height="3.6" fill="#000" stroke="#000" stroke-width="0.6"/>
<path d="M155.825 709.575 L157.5 709.575 L157.5 711.163 Z" fill="#fff"/>
<text x="159.25" y="713.449" font-size="7.15" text-anchor="start" font-weight="normal" fill="#1c1c1c" textLength="52.0" lengthAdjust="spacingAndGlyphs">ß3KO+ siRap1b</text>
<text x="50.681" y="677.5" font-size="7.15" text-anchor="start" fill="#1c1c1c" transform="rotate(-90 50.681 677.5)" textLength="94.0" lengthAdjust="spacingAndGlyphs">% adhesion (RFU after wash)/</text>
<text x="58.330999999999996" y="667.5" font-size="7.15" text-anchor="start" fill="#1c1c1c" transform="rotate(-90 58.330999999999996 667.5)" textLength="74.5" lengthAdjust="spacingAndGlyphs">(RFUbefore wash)*100</text>
<text x="369.25" y="572.5" font-size="7.15" text-anchor="start" font-weight="normal" fill="#1c1c1c" textLength="127.0" lengthAdjust="spacingAndGlyphs">Rap1b siRNA inhibits integrin β3 KO EC</text>
<text x="408.75" y="581.25" font-size="7.15" text-anchor="start" font-weight="normal" fill="#1c1c1c" textLength="47.5" lengthAdjust="spacingAndGlyphs">adhesion to FN</text>
<line x1="350" y1="590.85" x2="350" y2="687.5" stroke="#333" stroke-width="0.9"/>
<line x1="347.8" y1="687.5" x2="350" y2="687.5" stroke="#333" stroke-width="0.9"/>
<text x="342" y="690.074" font-size="7.15" text-anchor="end" font-weight="normal" fill="#1c1c1c">0</text>
<line x1="347.8" y1="671.4583333333334" x2="350" y2="671.4583333333334" stroke="#333" stroke-width="0.9"/>
<text x="342" y="674.0323333333333" font-size="7.15" text-anchor="end" font-weight="normal" fill="#1c1c1c">20</text>
<line x1="347.8" y1="655.4166666666666" x2="350" y2="655.4166666666666" stroke="#333" stroke-width="0.9"/>
<text x="342" y="657.9906666666666" font-size="7.15" text-anchor="end" font-weight="normal" fill="#1c1c1c">40</text>
<line x1="347.8" y1="639.375" x2="350" y2="639.375" stroke="#333" stroke-width="0.9"/>
<text x="342" y="641.949" font-size="7.15" text-anchor="end" font-weight="normal" fill="#1c1c1c">60</text>
<line x1="347.8" y1="623.3333333333334" x2="350" y2="623.3333333333334" stroke="#333" stroke-width="0.9"/>
<text x="342" y="625.9073333333333" font-size="7.15" text-anchor="end" font-weight="normal" fill="#1c1c1c">80</text>
<line x1="347.8" y1="607.2916666666666" x2="350" y2="607.2916666666666" stroke="#333" stroke-width="0.9"/>
<text x="342" y="609.8656666666666" font-size="7.15" text-anchor="end" font-weight="normal" fill="#1c1c1c">100</text>
<line x1="347.8" y1="591.25" x2="350" y2="591.25" stroke="#333" stroke-width="0.9"/>
<text x="342" y="593.824" font-size="7.15" text-anchor="end" font-weight="normal" fill="#1c1c1c">120</text>
<line x1="347.8" y1="687.5" x2="504.25" y2="687.5" stroke="#333" stroke-width="0.9"/>
<line x1="427.125" y1="687.5" x2="427.125" y2="690.5" stroke="#333" stroke-width="0.9"/>
<line x1="504.25" y1="687.5" x2="504.25" y2="690.5" stroke="#333" stroke-width="0.9"/>
<polyline points="376.9,604.0 376.9,599.9 401.1,599.9 401.1,604.0" fill="none" stroke="#333" stroke-width="0.9"/>
<text x="379" y="596.5" font-size="7.15" text-anchor="start" font-weight="normal" fill="#1c1c1c" textLength="24.3" lengthAdjust="spacingAndGlyphs">p&lt; 0.05</text>
<polyline points="452.3,603.7 452.3,599.5 476.5,599.5 476.5,603.7" fill="none" stroke="#333" stroke-width="0.9"/>
<text x="454" y="596.5" font-size="7.15" text-anchor="start" font-weight="normal" fill="#1c1c1c" textLength="24.3" lengthAdjust="spacingAndGlyphs">p= 0.06</text>
<text x="375" y="703.8" font-size="8.3" text-anchor="start" font-weight="bold" fill="#1c1c1c" textLength="26.25" lengthAdjust="spacingAndGlyphs">45 min</text>
<text x="452.5" y="703.8" font-size="8.3" text-anchor="start" font-weight="bold" fill="#1c1c1c" textLength="26.25" lengthAdjust="spacingAndGlyphs">90 min</text>
<rect x="350.6" y="709.7" width="153.2" height="7.6" fill="#fff" stroke="#333" stroke-width="0.8"/>
<rect x="377.5" y="711.7" width="3.4" height="3.6" fill="#000" stroke="#000" stroke-width="0.6"/>
<text x="381.6" y="716.074" font-size="7.15" text-anchor="start" font-weight="normal" fill="#1c1c1c" textLength="19.65" lengthAdjust="spacingAndGlyphs">ß3KO</text>
<rect x="427.5" y="711.7" width="3.4" height="3.6" fill="#000" stroke="#000" stroke-width="0.6"/>
<path d="M428.928 712.2 L430.4 712.2 L430.4 713.788 Z" fill="#fff"/>
<text x="431.6" y="716.074" font-size="7.15" text-anchor="start" font-weight="normal" fill="#1c1c1c" textLength="50.4" lengthAdjust="spacingAndGlyphs">ß3KO+siRap1b</text>
<text x="321.181" y="665.5" font-size="7.15" text-anchor="start" fill="#1c1c1c" transform="rotate(-90 321.181 665.5)" textLength="55.5" lengthAdjust="spacingAndGlyphs">Percent adhesion</text>
<text x="328.681" y="665" font-size="7.15" text-anchor="start" fill="#1c1c1c" transform="rotate(-90 328.681 665)" textLength="54.5" lengthAdjust="spacingAndGlyphs">relative to β3 KO</text>
</g>
<g class="bars">
<rect x="260" y="76.9" width="14.6" height="38.3" fill="#000" stroke="#000" stroke-width="0.9"/>
<path d="M267.3 76.9 V76.0 M265.2 76.0 H269.40000000000003" fill="none" stroke="#111" stroke-width="1.0"/>
<rect x="274.6" y="112.4" width="13.9" height="2.8" fill="#fff" stroke="#000" stroke-width="0.9"/>
<path d="M281.55 112.4 V111.7 M279.45 111.7 H283.65000000000003" fill="none" stroke="#111" stroke-width="1.0"/>
<rect x="288.5" y="91.3" width="14.9" height="23.9" fill="url(#ha)" stroke="#000" stroke-width="0.9"/>
<path d="M295.95 91.3 V90.39999999999999 M293.84999999999997 90.39999999999999 H298.05" fill="none" stroke="#111" stroke-width="1.0"/>
<rect x="303.4" y="112.7" width="14.0" height="2.5" fill="url(#dot)" stroke="#000" stroke-width="0.9"/>
<path d="M310.4 112.7 V111.9 M308.29999999999995 111.9 H312.5" fill="none" stroke="#111" stroke-width="1.0"/>
<rect x="337.7" y="31.4" width="14.8" height="83.8" fill="#000" stroke="#000" stroke-width="0.9"/>
<path d="M345.1 31.4 V30.099999999999998 M343.0 30.099999999999998 H347.20000000000005" fill="none" stroke="#111" stroke-width="1.0"/>
<rect x="352.5" y="95.4" width="13.8" height="19.8" fill="#fff" stroke="#000" stroke-width="0.9"/>
<path d="M359.4 95.4 V94.5 M357.29999999999995 94.5 H361.5" fill="none" stroke="#111" stroke-width="1.0"/>
<rect x="366.3" y="62.2" width="15.4" height="53.0" fill="url(#ha)" stroke="#000" stroke-width="0.9"/>
<path d="M374.0 62.2 V61.0 M371.9 61.0 H376.1" fill="none" stroke="#111" stroke-width="1.0"/>
<rect x="381.7" y="103" width="13.8" height="12.2" fill="url(#dot)" stroke="#000" stroke-width="0.9"/>
<path d="M388.6 103 V101.7 M386.5 101.7 H390.70000000000005" fill="none" stroke="#111" stroke-width="1.0"/>
<rect x="96.25" y="188.75" width="21.25" height="83.25" fill="#000" stroke="#000" stroke-width="0.9"/>
<rect x="117.5" y="229.5" width="21.75" height="42.5" fill="url(#hb)" stroke="#000" stroke-width="0.9"/>
<path d="M128.6 229.5 V219.5 M126.1 219.5 H131.1" fill="none" stroke="#111" stroke-width="1.0"/>
<rect x="170" y="188.75" width="21.75" height="83.25" fill="#000" stroke="#000" stroke-width="0.9"/>
<rect x="191.75" y="207.5" width="22.0" height="64.5" fill="url(#hb)" stroke="#000" stroke-width="0.9"/>
<path d="M203 207.5 V197 M200.5 197 H205.5" fill="none" stroke="#111" stroke-width="1.0"/>
<rect x="367" y="192" width="22.25" height="81.25" fill="#000" stroke="#000" stroke-width="0.9"/>
<rect x="389.25" y="217.5" width="21.25" height="55.75" fill="url(#hb)" stroke="#000" stroke-width="0.9"/>
<path d="M399.25 217.5 V191.25 M396.75 191.25 H401.75" fill="none" stroke="#111" stroke-width="1.0"/>
<rect x="442.5" y="192" width="22.5" height="81.25" fill="#000" stroke="#000" stroke-width="0.9"/>
<rect x="465" y="237.5" width="21.25" height="35.75" fill="url(#hb)" stroke="#000" stroke-width="0.9"/>
<path d="M475.5 237.5 V226.25 M473.0 226.25 H478.0" fill="none" stroke="#111" stroke-width="1.0"/>
<rect x="86.9" y="399.6" width="12.9" height="7.4" fill="#000" stroke="#000" stroke-width="0.9"/>
<rect x="99.8" y="401.6" width="12.0" height="5.4" fill="#fff" stroke="#000" stroke-width="0.9"/>
<rect x="111.8" y="399.2" width="13.2" height="7.8" fill="url(#hc)" stroke="#000" stroke-width="0.9"/>
<rect x="125" y="399.3" width="12.9" height="7.7" fill="url(#dia0)" stroke="#000" stroke-width="0.9"/>
<rect x="149.5" y="382" width="13.0" height="25" fill="#000" stroke="#000" stroke-width="0.9"/>
<path d="M156.0 382 V381.3 M153.6 381.3 H158.4" fill="none" stroke="#111" stroke-width="1.0"/>
<rect x="162.5" y="386.25" width="12.5" height="20.75" fill="#fff" stroke="#000" stroke-width="0.9"/>
<path d="M168.75 386.25 V385 M166.35 385 H171.15" fill="none" stroke="#111" stroke-width="1.0"/>
<rect x="175" y="378.75" width="13.25" height="28.25" fill="url(#hc)" stroke="#000" stroke-width="0.9"/>
<path d="M181.625 378.75 V376.25 M179.225 376.25 H184.025" fill="none" stroke="#111" stroke-width="1.0"/>
<rect x="188.25" y="387.5" width="12.5" height="19.5" fill="url(#dia1)" stroke="#000" stroke-width="0.9"/>
<path d="M194.5 387.5 V385.75 M192.1 385.75 H196.9" fill="none" stroke="#111" stroke-width="1.0"/>
<rect x="212.4" y="330.8" width="13.5" height="76.2" fill="#000" stroke="#000" stroke-width="0.9"/>
<path d="M219.15 330.8 V328.3 M216.75 328.3 H221.55" fill="none" stroke="#111" stroke-width="1.0"/>
<rect x="225.9" y="354.7" width="12.1" height="52.3" fill="#fff" stroke="#000" stroke-width="0.9"/>
<path d="M231.95 354.7 V350.7 M229.54999999999998 350.7 H234.35" fill="none" stroke="#111" stroke-width="1.0"/>
<rect x="238" y="347.6" width="12.8" height="59.4" fill="url(#hc)" stroke="#000" stroke-width="0.9"/>
<path d="M244.4 347.6 V345.3 M242.0 345.3 H246.8" fill="none" stroke="#111" stroke-width="1.0"/>
<rect x="250.8" y="368.7" width="12.7" height="38.3" fill="url(#dia2)" stroke="#000" stroke-width="0.9"/>
<path d="M257.15 368.7 V368.2 M254.74999999999997 368.2 H259.54999999999995" fill="none" stroke="#111" stroke-width="1.0"/>
<rect x="366.5" y="333.4" width="22.75" height="74.1" fill="#000" stroke="#000" stroke-width="0.9"/>
<rect x="389.25" y="349.5" width="22.75" height="58.0" fill="url(#hb)" stroke="#000" stroke-width="0.9"/>
<path d="M400.5 349.5 V339.25 M398.0 339.25 H403.0" fill="none" stroke="#111" stroke-width="1.0"/>
<rect x="444.5" y="358.25" width="22.5" height="49.25" fill="#000" stroke="#000" stroke-width="0.9"/>
<path d="M455.75 358.25 V348.75 M453.25 348.75 H458.25" fill="none" stroke="#111" stroke-width="1.0"/>
<rect x="467" y="373.75" width="22.5" height="33.75" fill="url(#hb)" stroke="#000" stroke-width="0.9"/>
<path d="M478 373.75 V368 M475.5 368 H480.5" fill="none" stroke="#111" stroke-width="1.0"/>
<rect x="148.75" y="654.25" width="17.0" height="33.25" fill="#000" stroke="#000" stroke-width="0.9"/>
<path d="M157.25 654.25 V653.5 M154.65 653.5 H159.85" fill="none" stroke="#111" stroke-width="1.0"/>
<rect x="165.75" y="666" width="16.75" height="21.5" fill="url(#hf)" stroke="#000" stroke-width="0.9"/>
<path d="M174.1 666 V663.5 M171.5 663.5 H176.7" fill="none" stroke="#111" stroke-width="1.0"/>
<rect x="207" y="637.9" width="17.5" height="49.6" fill="#000" stroke="#000" stroke-width="0.9"/>
<path d="M215.7 638 V635.5 M213.1 635.5 H218.29999999999998" fill="none" stroke="#111" stroke-width="1.0"/>
<rect x="224.5" y="655.5" width="17.0" height="32.0" fill="url(#hf)" stroke="#000" stroke-width="0.9"/>
<path d="M233 655.5 V652.8 M230.4 652.8 H235.6" fill="none" stroke="#111" stroke-width="1.0"/>
<rect x="367" y="607.25" width="22.25" height="80.25" fill="#000" stroke="#000" stroke-width="0.9"/>
<rect x="389.25" y="637.5" width="21.25" height="50.0" fill="url(#hb)" stroke="#000" stroke-width="0.9"/>
<path d="M400 637.5 V630.5 M397.5 630.5 H402.5" fill="none" stroke="#111" stroke-width="1.0"/>
<rect x="443.25" y="607.25" width="22.5" height="80.25" fill="#000" stroke="#000" stroke-width="0.9"/>
<rect x="465.75" y="635.5" width="21.75" height="52.0" fill="url(#hb)" stroke="#000" stroke-width="0.9"/>
<path d="M476.25 635.5 V621.75 M473.75 621.75 H478.75" fill="none" stroke="#111" stroke-width="1.0"/>
</g>
</svg>
</body></html>
